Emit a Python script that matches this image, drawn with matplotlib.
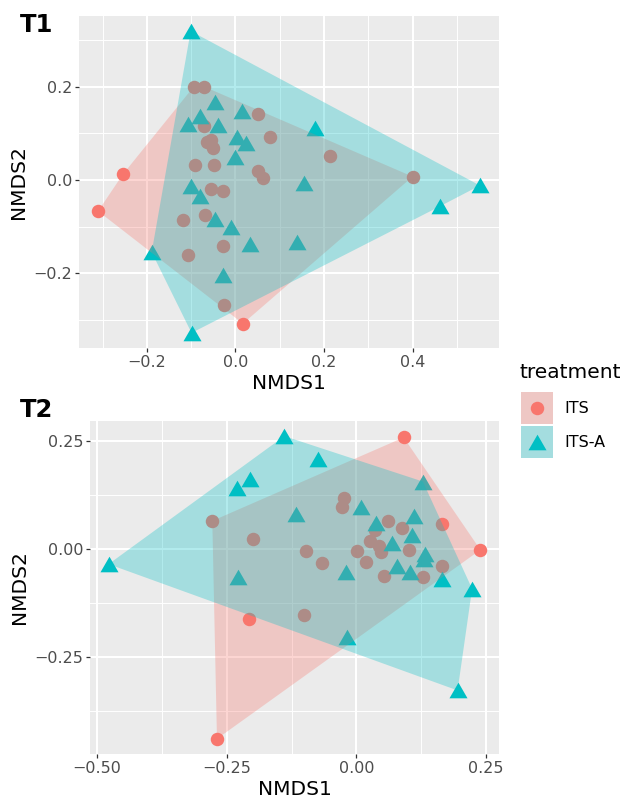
import numpy as np
import matplotlib
matplotlib.use("Agg")
import matplotlib.pyplot as plt
from matplotlib.patches import Polygon, Rectangle
from matplotlib.lines import Line2D
from matplotlib.ticker import MultipleLocator

# NMDS scores
t1_its_x = [-0.094, -0.071, 0.051, -0.070, 0.077, -0.064, -0.055, -0.051, 0.213, -0.092,
            -0.048, 0.050, 0.063, 0.400, -0.254, -0.056, -0.028, -0.310, -0.118, -0.068,
            -0.028, -0.107, -0.025, 0.017]
t1_its_y = [0.200, 0.200, 0.142, 0.115, 0.091, 0.081, 0.085, 0.068, 0.052, 0.033,
            0.033, 0.020, 0.005, 0.007, 0.012, -0.019, -0.023, -0.067, -0.085, -0.076,
            -0.141, -0.162, -0.269, -0.308]
t1_itsa_x = [-0.101, -0.047, -0.080, -0.108, -0.040, 0.016, 0.179, 0.004, 0.025, -0.002,
             0.154, 0.552, -0.101, -0.079, 0.461, -0.047, -0.009, 0.034, 0.139, -0.189,
             -0.029, -0.099]
t1_itsa_y = [0.319, 0.167, 0.138, 0.120, 0.117, 0.147, 0.112, 0.092, 0.079, 0.050,
             -0.007, -0.012, -0.014, -0.035, -0.057, -0.083, -0.102, -0.138, -0.133, -0.155,
             -0.204, -0.328]

t2_its_x = [0.091, -0.024, -0.028, -0.278, -0.199, 0.061, 0.088, 0.165, 0.035, 0.027,
            0.043, 0.048, 0.239, 0.001, -0.098, 0.101, -0.066, 0.019, 0.165, 0.053,
            0.128, -0.208, -0.102, -0.269]
t2_its_y = [0.258, 0.118, 0.098, 0.065, 0.023, 0.064, 0.048, 0.058, 0.044, 0.018,
            0.008, -0.008, -0.002, -0.004, -0.004, -0.002, -0.033, -0.029, -0.039, -0.063,
            -0.064, -0.162, -0.152, -0.439]
t2_itsa_x = [-0.139, -0.075, -0.206, -0.230, 0.128, -0.116, 0.008, 0.037, 0.110, 0.107,
             0.069, 0.133, 0.130, -0.478, 0.078, -0.021, 0.104, -0.228, 0.165, 0.223,
             -0.019, 0.195]
t2_itsa_y = [0.261, 0.208, 0.162, 0.140, 0.156, 0.081, 0.096, 0.061, 0.077, 0.032,
             0.015, -0.012, -0.023, -0.035, -0.040, -0.054, -0.054, -0.065, -0.069, -0.092,
             -0.204, -0.327]

groups = ["ITS", "ITS-A"]
colors = {"ITS": "#F8766D", "ITS-A": "#00BFC4"}
# ggplot style triangle: wider than tall
tri = [(-1, -0.866), (1, -0.866), (0, 0.866), (-1, -0.866)]
markers = {"ITS": "o", "ITS-A": tri}
msize = {"ITS": 9.7, "ITS-A": 13}


def hull(x, y):
    pts = sorted(set(zip(x, y)))

    def cross(o, a, b):
        return (a[0] - o[0]) * (b[1] - o[1]) - (a[1] - o[1]) * (b[0] - o[0])

    lower, upper = [], []
    for p in pts:
        while len(lower) >= 2 and cross(lower[-2], lower[-1], p) <= 0:
            lower.pop()
        lower.append(p)
    for p in reversed(pts):
        while len(upper) >= 2 and cross(upper[-2], upper[-1], p) <= 0:
            upper.pop()
        upper.append(p)
    return np.array(lower[:-1] + upper[:-1])


def panel(ax, data, xmaj, xmin, ymaj, ymin):
    ax.set_facecolor("#EBEBEB")
    for g in groups:
        x, y = data[g]
        ax.plot(x, y, ls="none", marker=markers[g], ms=msize[g], color=colors[g],
                mec="none", zorder=2)
    for g in groups:
        x, y = data[g]
        ax.add_patch(Polygon(hull(x, y), closed=True, fc=colors[g], ec="none",
                             alpha=0.3, zorder=3))
    ax.margins(0.05)
    ax.set_xticks(xmaj)
    ax.set_yticks(ymaj)
    ax.xaxis.set_minor_locator(MultipleLocator(xmin))
    ax.yaxis.set_minor_locator(MultipleLocator(ymin))
    ax.grid(which="major", color="white", lw=1.5, zorder=0)
    ax.grid(which="minor", color="white", lw=0.7, zorder=0)
    ax.set_axisbelow(True)
    for s in ax.spines.values():
        s.set_visible(False)
    ax.tick_params(which="major", length=3, width=0.9, color="#333333",
                   labelcolor="#4D4D4D", labelsize=11.5, pad=2)
    ax.tick_params(which="minor", length=0)
    ax.set_xlabel("NMDS1", fontsize=14.5, labelpad=3)
    ax.set_ylabel("NMDS2", fontsize=14.5, labelpad=4)


class KeyHandler:
    # legend key: grey box, translucent fill, point in the middle
    def legend_artist(self, legend, orig_handle, fontsize, handlebox):
        x0, y0 = -handlebox.xdescent, -handlebox.ydescent
        w, h = handlebox.width, handlebox.height
        tr = handlebox.get_transform()
        c = orig_handle.get_color()
        bg = Rectangle((x0, y0), w, h, fc="#EBEBEB", ec="none", transform=tr)
        fill = Rectangle((x0, y0), w, h, fc=c, ec="none", alpha=0.3, transform=tr)
        pt = Line2D([x0 + w / 2], [y0 + h / 2], ls="none", marker=orig_handle.get_marker(),
                    ms=orig_handle.get_markersize(), color=c, mec="none", transform=tr)
        for a in (bg, fill, pt):
            handlebox.add_artist(a)
        return pt


fig = plt.figure(figsize=(6.27, 8.02), dpi=100)
ax1 = fig.add_axes([79 / 627, 1 - 348 / 802, 420 / 627, 332 / 802])
ax2 = fig.add_axes([90 / 627, 1 - 754 / 802, 409 / 627, 333 / 802])

panel(ax1, {"ITS": (t1_its_x, t1_its_y), "ITS-A": (t1_itsa_x, t1_itsa_y)},
      [-0.2, 0.0, 0.2, 0.4], 0.1, [-0.2, 0.0, 0.2], 0.1)
ax1.set_xticklabels(["\u22120.2", "0.0", "0.2", "0.4"])
ax1.set_yticklabels(["\u22120.2", "0.0", "0.2"])

panel(ax2, {"ITS": (t2_its_x, t2_its_y), "ITS-A": (t2_itsa_x, t2_itsa_y)},
      [-0.5, -0.25, 0.0, 0.25], 0.125, [-0.25, 0.0, 0.25], 0.125)
ax2.set_xticklabels(["\u22120.50", "\u22120.25", "0.00", "0.25"])
ax2.set_yticklabels(["\u22120.25", "0.00", "0.25"])

fig.text(20 / 627, 1 - 25 / 802, "T1", fontsize=17.5, fontweight="bold", va="center")
fig.text(20 / 627, 1 - 410 / 802, "T2", fontsize=17.5, fontweight="bold", va="center")

# legend
fig.text(520 / 627, 1 - 372 / 802, "treatment", fontsize=14.5, va="center")
handles = [Line2D([], [], ls="none", marker=markers[g], ms=msize[g], color=colors[g])
           for g in groups]
fig.legend(handles, groups, handler_map={Line2D: KeyHandler()},
           loc="upper left", bbox_to_anchor=(521 / 627, 1 - 392 / 802),
           frameon=False, fontsize=11.5, handlelength=2.0, handleheight=2.7,
           labelspacing=0.12, handletextpad=0.7, borderpad=0, borderaxespad=0)

fig.savefig("out.png", dpi=100)
